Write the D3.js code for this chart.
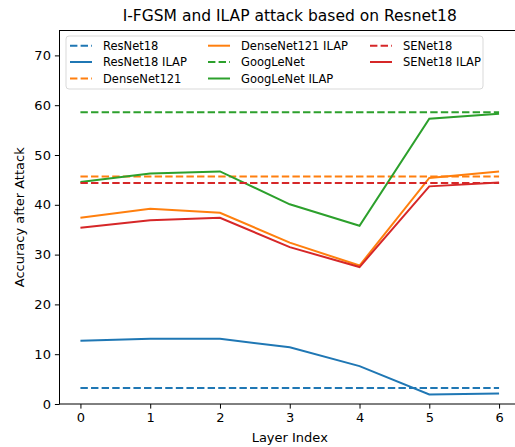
<!DOCTYPE html>
<html>
<head>
<meta charset="utf-8">
<script src="https://cdn.jsdelivr.net/npm/d3@7"></script>
<style>
  body { margin: 0; background: #fff; }
  svg { display: block; font-family: "DejaVu Sans", sans-serif; }
</style>
</head>
<body>
<svg width="515" height="447"></svg>
<script>
var layers = [0, 1, 2, 3, 4, 5, 6];
var yTicks = [0, 10, 20, 30, 40, 50, 60, 70];

var resnet18      = [3.2, 3.2, 3.2, 3.2, 3.2, 3.2, 3.2];
var resnet18Ilap  = [12.7, 13.1, 13.1, 11.4, 7.6, 1.9, 2.1];
var densenet      = [45.7, 45.7, 45.7, 45.7, 45.7, 45.7, 45.7];
var densenetIlap  = [37.4, 39.2, 38.4, 32.4, 27.8, 45.4, 46.7];
var googlenet     = [58.6, 58.6, 58.6, 58.6, 58.6, 58.6, 58.6];
var googlenetIlap = [44.6, 46.3, 46.7, 40.1, 35.8, 57.3, 58.3];
var senet         = [44.4, 44.4, 44.4, 44.4, 44.4, 44.4, 44.4];
var senetIlap     = [35.4, 36.9, 37.4, 31.5, 27.5, 43.7, 44.5];

var series = [
  {name: "ResNet18",         vals: resnet18,      color: "#1f77b4", dash: true},
  {name: "ResNet18 ILAP",    vals: resnet18Ilap,  color: "#1f77b4", dash: false},
  {name: "DenseNet121",      vals: densenet,      color: "#ff7f0e", dash: true},
  {name: "DenseNet121 ILAP", vals: densenetIlap,  color: "#ff7f0e", dash: false},
  {name: "GoogLeNet",        vals: googlenet,     color: "#2ca02c", dash: true},
  {name: "GoogLeNet ILAP",   vals: googlenetIlap, color: "#2ca02c", dash: false},
  {name: "SENet18",          vals: senet,         color: "#d62728", dash: true},
  {name: "SENet18 ILAP",     vals: senetIlap,     color: "#d62728", dash: false}
];

var svg = d3.select("svg"),
    mLeft = 59.5, mRight = 520, mTop = 30.5, mBottom = 404;

var x = d3.scaleLinear().domain([-0.3, 6.3]).range([mLeft, mRight]),
    y = d3.scaleLinear().domain([0, 75]).range([mBottom, mTop]);

var line = d3.line()
  .x(function(d, i) { return x(layers[i]); })
  .y(function(d) { return y(d); });

// lines
svg.append("g").selectAll("path")
  .data(series)
  .enter().append("path")
    .attr("d", function(d) { return line(d.vals); })
    .attr("fill", "none")
    .attr("stroke", function(d) { return d.color; })
    .attr("stroke-width", 2)
    .attr("stroke-dasharray", function(d) { return d.dash ? "7.4,3.2" : null; });

// axes
var xAxis = svg.append("g")
  .attr("transform", "translate(0," + mBottom + ")")
  .call(d3.axisBottom(x).tickValues(layers).tickFormat(d3.format("d"))
    .tickSize(4.6).tickPadding(4));
var yAxis = svg.append("g")
  .attr("transform", "translate(" + mLeft + ",0)")
  .call(d3.axisLeft(y).tickValues(yTicks).tickFormat(d3.format("d"))
    .tickSize(4.6).tickPadding(4));

[xAxis, yAxis].forEach(function(g) {
  g.select(".domain").remove();
  g.selectAll("text").attr("font-size", 13).attr("fill", "#000")
    .attr("font-family", "DejaVu Sans");
  g.selectAll("line").attr("stroke", "#000").attr("stroke-width", 1);
});

// spines
svg.append("rect")
  .attr("x", mLeft).attr("y", mTop)
  .attr("width", mRight - mLeft).attr("height", mBottom - mTop)
  .attr("fill", "none").attr("stroke", "#000").attr("stroke-width", 1);

// title and labels
svg.append("text")
  .attr("x", (mLeft + mRight) / 2).attr("y", 21)
  .attr("text-anchor", "middle").attr("font-size", 15.5)
  .text("I-FGSM and ILAP attack based on Resnet18");
svg.append("text")
  .attr("x", (mLeft + mRight) / 2).attr("y", 442)
  .attr("text-anchor", "middle").attr("font-size", 13)
  .text("Layer Index");
svg.append("text")
  .attr("transform", "translate(24," + (mTop + mBottom) / 2 + ") rotate(-90)")
  .attr("text-anchor", "middle").attr("font-size", 13)
  .text("Accuracy after Attack");

// legend
var legend = svg.append("g");
legend.append("rect")
  .attr("x", 66).attr("y", 36).attr("width", 417).attr("height", 53)
  .attr("rx", 3)
  .attr("fill", "#fff").attr("fill-opacity", 0.8)
  .attr("stroke", "#d9d9d9").attr("stroke-width", 1);

var colX = [70, 208, 370],
    rowY = [45.7, 62, 78.5];

var items = legend.selectAll("g.item")
  .data(series)
  .enter().append("g")
    .attr("class", "item")
    .attr("transform", function(d, i) {
      return "translate(" + colX[Math.floor(i / 3)] + "," + rowY[i % 3] + ")";
    });
items.append("line")
  .attr("x1", 0).attr("x2", 22)
  .attr("stroke", function(d) { return d.color; })
  .attr("stroke-width", 2)
  .attr("stroke-dasharray", function(d) { return d.dash ? "7.4,3.2" : null; });
items.append("text")
  .attr("x", 33).attr("dy", "0.36em")
  .attr("font-size", 11.5)
  .text(function(d) { return d.name; });
</script>
</body>
</html>
